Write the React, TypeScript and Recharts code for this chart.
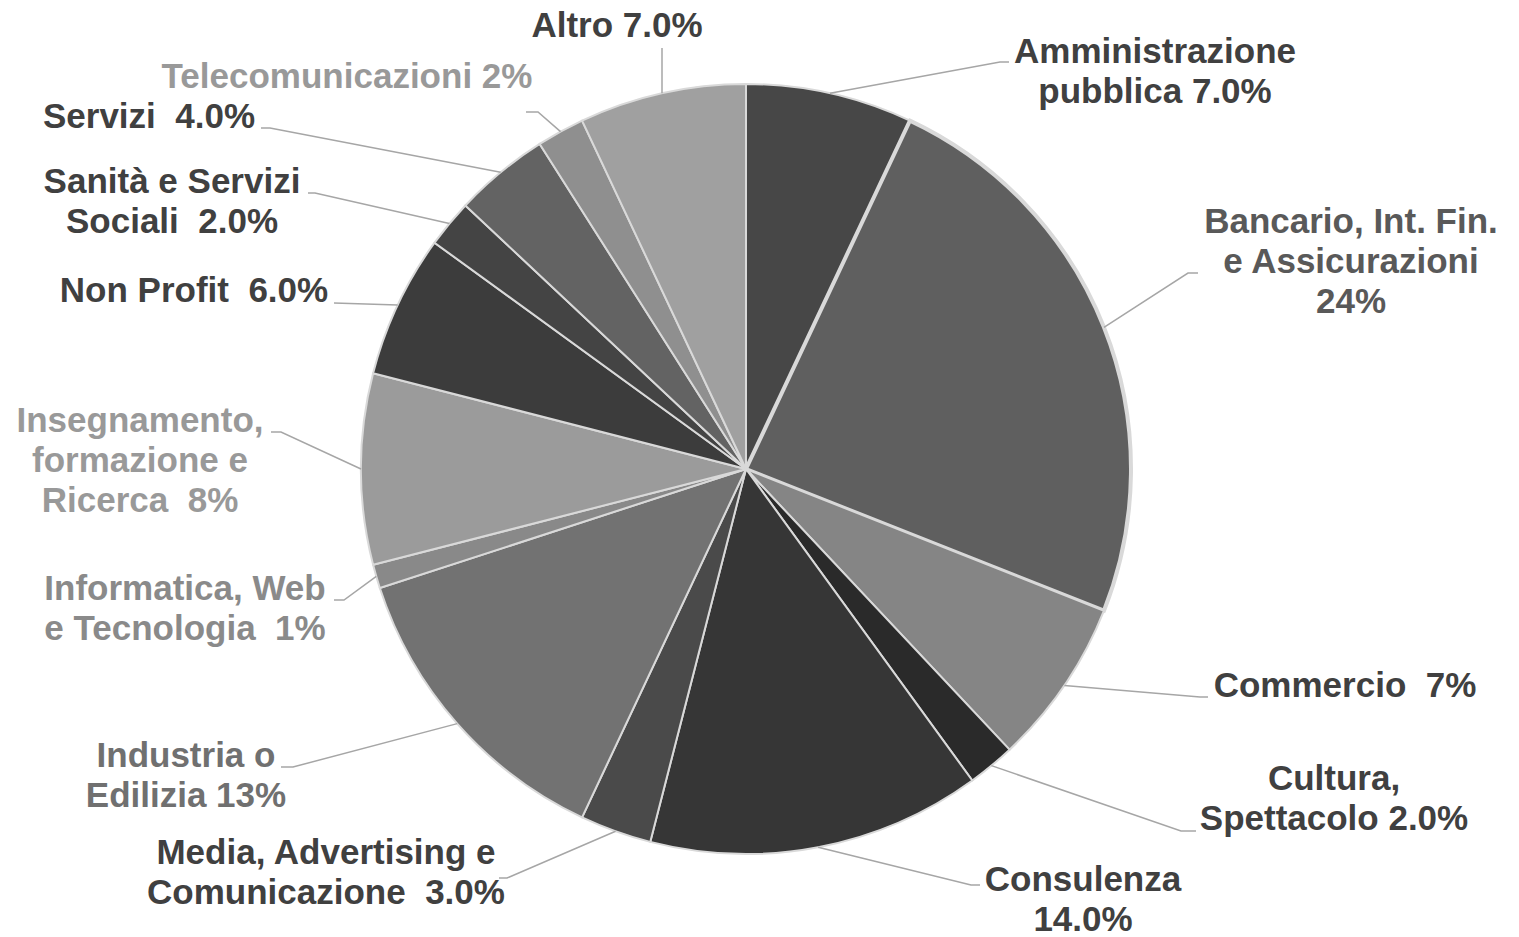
import { Cell, Pie, PieChart } from "recharts";

// sectors, clockwise from 12 o'clock
const SECTORS = [
  "Amministrazione pubblica",
  "Bancario, Int. Fin. e Assicurazioni",
  "Commercio",
  "Cultura, Spettacolo",
  "Consulenza",
  "Media, Advertising e Comunicazione",
  "Industria o Edilizia",
  "Informatica, Web e Tecnologia",
  "Insegnamento, formazione e Ricerca",
  "Non Profit",
  "Sanità e Servizi Sociali",
  "Servizi",
  "Telecomunicazioni",
  "Altro",
];

const SHARES = [7, 24, 7, 2, 14, 3, 13, 1, 8, 6, 2, 4, 2, 7];

const LABEL_LINES = [
  ["Amministrazione", "pubblica 7.0%"],
  ["Bancario, Int. Fin.", "e Assicurazioni", "24%"],
  ["Commercio  7%"],
  ["Cultura,", "Spettacolo 2.0%"],
  ["Consulenza", "14.0%"],
  ["Media, Advertising e", "Comunicazione  3.0%"],
  ["Industria o", "Edilizia 13%"],
  ["Informatica, Web", "e Tecnologia  1%"],
  ["Insegnamento,", "formazione e", "Ricerca  8%"],
  ["Non Profit  6.0%"],
  ["Sanità e Servizi", "Sociali  2.0%"],
  ["Servizi  4.0%"],
  ["Telecomunicazioni 2%"],
  ["Altro 7.0%"],
];

const FILLS = [
  "#474747", "#5f5f5f", "#858585", "#2a2a2a", "#363636", "#4a4a4a", "#727272",
  "#898989", "#9b9b9b", "#3c3c3c", "#444444", "#636363", "#8f8f8f", "#a0a0a0",
];

const TEXT_COLORS = [
  "#404040", "#595959", "#404040", "#404040", "#404040", "#404040", "#707070",
  "#8a8a8a", "#999999", "#404040", "#404040", "#404040", "#999999", "#404040",
];

// label placement (page pixels): text centre x, first baseline, leader elbow and end
const LABEL_POS = [
  { x: 1155, y: 63, ex: 1000, ey: 62, hx: 1009 },
  { x: 1351, y: 233, ex: 1188, ey: 273, hx: 1198 },
  { x: 1345, y: 697, ex: 1200, ey: 697, hx: 1208 },
  { x: 1334, y: 790, ex: 1181, ey: 831, hx: 1196 },
  { x: 1083, y: 891, ex: 971, ey: 885, hx: 980 },
  { x: 326, y: 864, ex: 507, ey: 878, hx: 499 },
  { x: 186, y: 767, ex: 293, ey: 767, hx: 281 },
  { x: 185, y: 600, ex: 344, ey: 600, hx: 334 },
  { x: 140, y: 432, ex: 281, ey: 432, hx: 271 },
  { x: 194, y: 302, ex: 334, ey: 303, hx: 334 },
  { x: 172, y: 193, ex: 315, ey: 193, hx: 308 },
  { x: 149, y: 128, ex: 270, ey: 128, hx: 261 },
  { x: 347, y: 88, ex: 538, ey: 112, hx: 526 },
  { x: 617, y: 37, ex: 662, ey: 48, hx: 662 },
];

const data = SECTORS.map((name, i) => ({ name, value: SHARES[i] }));

const RAD = Math.PI / 180;

function renderLabel(props: any) {
  const { cx, cy, midAngle, outerRadius, index } = props;
  const pos = LABEL_POS[index];
  const sx = cx + outerRadius * Math.cos(-midAngle * RAD);
  const sy = cy + outerRadius * Math.sin(-midAngle * RAD);
  return (
    <g key={`lbl-${index}`}>
      <polyline
        points={`${sx},${sy} ${pos.ex},${pos.ey} ${pos.hx},${pos.ey}`}
        fill="none"
        stroke="#a6a6a6"
        strokeWidth={1.5}
      />
      <text
        x={pos.x}
        y={pos.y}
        textAnchor="middle"
        fill={TEXT_COLORS[index]}
        fontFamily="'Liberation Sans', Arial, sans-serif"
        fontWeight="bold"
        fontSize={35}
        style={{ whiteSpace: "pre" }}
      >
        {LABEL_LINES[index].map((line, j) => (
          <tspan key={j} x={pos.x} y={pos.y + j * 40}>
            {line}
          </tspan>
        ))}
      </text>
    </g>
  );
}

export default function App() {
  // cancel the body margin so chart pixels line up with page pixels
  return (
    <div style={{ width: 1519, height: 937, marginTop: -8, marginLeft: -8 }}>
      <PieChart width={1519} height={937} margin={{ top: 0, right: 0, bottom: 0, left: 0 }}>
        <Pie
          data={data}
          dataKey="value"
          nameKey="name"
          cx={746}
          cy={469}
          outerRadius={385}
          startAngle={90}
          endAngle={-270}
          label={renderLabel}
          labelLine={false}
          isAnimationActive={false}
        >
          {data.map((d, i) => (
            <Cell
              key={d.name}
              fill={FILLS[i]}
              stroke="#d9d9d9"
              strokeWidth={i === 1 ? 4 : 2}
            />
          ))}
        </Pie>
      </PieChart>
    </div>
  );
}
